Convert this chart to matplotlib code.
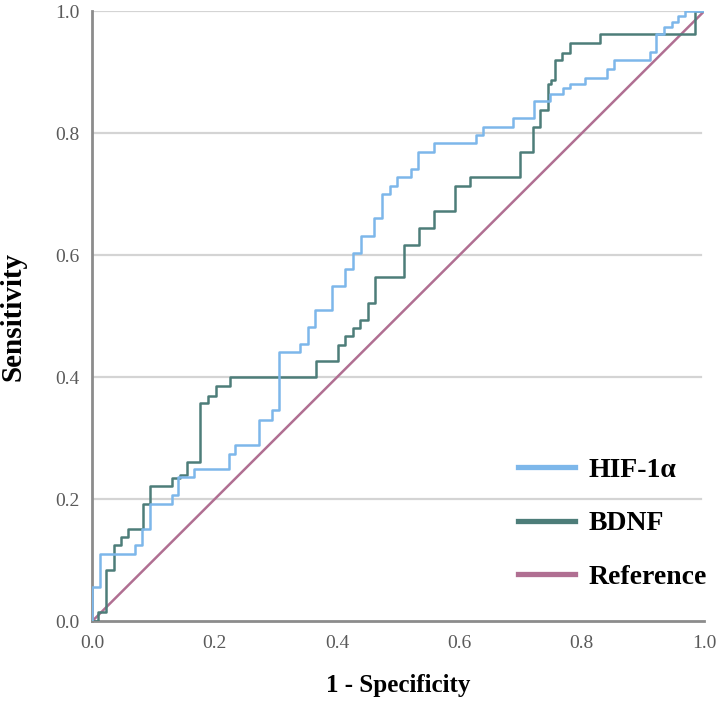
import matplotlib
matplotlib.use('Agg')
import matplotlib.pyplot as plt
from matplotlib.lines import Line2D

# Curvas ROC (1 - especificidade, sensibilidade)
hif_fpr = [0.0, 0.0, 0.012, 0.070, 0.082, 0.094, 0.130, 0.141, 0.167, 0.224,
           0.234, 0.272, 0.294, 0.306, 0.340, 0.352, 0.364, 0.392, 0.413, 0.427,
           0.439, 0.461, 0.473, 0.487, 0.498, 0.521, 0.533, 0.558, 0.628, 0.639,
           0.688, 0.722, 0.748, 0.770, 0.780, 0.806, 0.841, 0.853, 0.911, 0.922,
           0.935, 0.948, 0.958, 0.969, 1.0]
hif_tpr = [0.0, 0.056, 0.111, 0.125, 0.152, 0.193, 0.207, 0.236, 0.249, 0.274,
           0.289, 0.330, 0.346, 0.441, 0.454, 0.482, 0.510, 0.549, 0.577, 0.604,
           0.632, 0.661, 0.701, 0.714, 0.729, 0.742, 0.769, 0.784, 0.797, 0.810,
           0.825, 0.853, 0.865, 0.874, 0.881, 0.891, 0.905, 0.920, 0.933, 0.962,
           0.974, 0.983, 0.992, 1.0, 1.0]

bdnf_fpr = [0.0, 0.010, 0.022, 0.035, 0.047, 0.059, 0.083, 0.095, 0.130, 0.143,
            0.155, 0.177, 0.189, 0.202, 0.225, 0.366, 0.401, 0.413, 0.426, 0.438,
            0.450, 0.462, 0.510, 0.534, 0.558, 0.593, 0.618, 0.699, 0.721, 0.732,
            0.745, 0.750, 0.757, 0.767, 0.781, 0.829, 0.985, 1.0]
bdnf_tpr = [0.0, 0.016, 0.084, 0.125, 0.138, 0.152, 0.193, 0.222, 0.235, 0.240,
            0.261, 0.357, 0.370, 0.385, 0.400, 0.427, 0.453, 0.467, 0.480, 0.494,
            0.521, 0.565, 0.617, 0.645, 0.673, 0.713, 0.728, 0.769, 0.810, 0.838,
            0.880, 0.888, 0.920, 0.932, 0.948, 0.962, 1.0, 1.0]

ref_x = [0.0, 1.0]
ref_y = [0.0, 1.0]

series = ['HIF-1α', 'BDNF', 'Reference']
ticks = [0.0, 0.2, 0.4, 0.6, 0.8, 1.0]
tick_labels = ['0.0', '0.2', '0.4', '0.6', '0.8', '1.0']

cor_hif = '#7db7ea'
cor_bdnf = '#4d7d79'
cor_ref = '#b06f92'

plt.rcParams['font.family'] = ['Liberation Serif', 'DejaVu Serif']

fig = plt.figure(figsize=(7.2, 7.02), dpi=100)
ax = fig.add_axes([0.128, 0.115, 0.85, 0.869])

# linhas de grade horizontais
for t in ticks[1:]:
    ax.axhline(t, xmin=0, xmax=0.995, color='#d4d4d4', lw=1.6, zorder=0)

ax.plot(ref_x, ref_y, color=cor_ref, lw=1.8, zorder=2)
ax.plot(bdnf_fpr, bdnf_tpr, drawstyle='steps-post', color=cor_bdnf, lw=1.8, zorder=3)
ax.plot(hif_fpr, hif_tpr, drawstyle='steps-post', color=cor_hif, lw=1.8, zorder=4)

ax.set_xlim(0, 1)
ax.set_ylim(0, 1)
ax.set_xticks(ticks)
ax.set_yticks(ticks)
ax.set_xticklabels(tick_labels)
ax.set_yticklabels(tick_labels)
ax.tick_params(length=0, labelsize=14, labelcolor='#5a5a5a')
ax.tick_params(axis='x', pad=10)
ax.tick_params(axis='y', pad=9)

for s in ['top', 'right']:
    ax.spines[s].set_visible(False)
for s in ['left', 'bottom']:
    ax.spines[s].set_color('#8c8c8c')
    ax.spines[s].set_linewidth(2)

ax.set_xlabel('1 - Specificity', fontsize=18, fontweight='bold', labelpad=16)
ax.set_ylabel('Sensitivity', fontsize=21, fontweight='bold')
ax.yaxis.set_label_coords(-0.108, 0.5)

# legenda com linhas mais grossas
handles = [Line2D([], [], color=c, lw=3.8) for c in [cor_hif, cor_bdnf, cor_ref]]
leg = ax.legend(handles, series, loc='lower right', frameon=False,
                prop={'weight': 'bold', 'size': 20}, handlelength=2.05,
                labelspacing=1.0, handletextpad=0.47, borderpad=0,
                borderaxespad=0, bbox_to_anchor=(1.004, 0.052))

fig.savefig('out.png', dpi=100)
